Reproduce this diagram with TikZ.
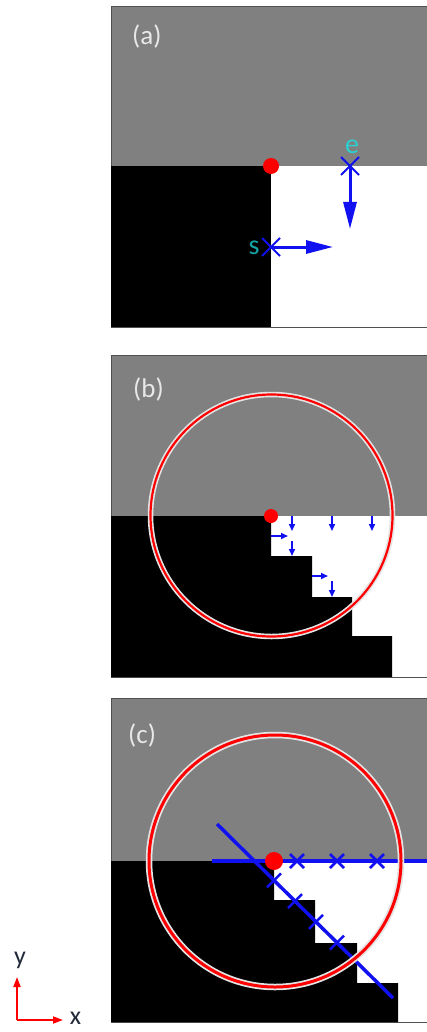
\documentclass[tikz,border=0pt]{standalone}
\usepackage{fontspec}
\setmainfont{Carlito}
\usetikzlibrary{arrows.meta,calc}
\definecolor{topgray}{HTML}{808080}
\definecolor{framec}{HTML}{505050}
\definecolor{bluec}{HTML}{1010F0}
\definecolor{ecol}{HTML}{2DD0D0}
\definecolor{scol}{HTML}{17A3A3}
\definecolor{tagc}{HTML}{E8E8E8}
\definecolor{axc}{HTML}{222A3A}
\definecolor{halo}{HTML}{E4E4E4}
\tikzset{
  bigar/.style={-{Triangle[length=27pt,width=13pt]},line width=3pt,bluec},
  smallar/.style={-{Triangle[length=7pt,width=6pt]},line width=1.6pt,bluec},
  axar/.style={-{Triangle[length=10pt,width=7pt]},line width=1.8pt,red},
  ring/.style 2 args={red,line width=#1,preaction={draw=halo,line width=#2}},
  tag/.style={font=\fontsize{27}{27}\selectfont,text=tagc,anchor=base west,inner sep=0pt},
  lett/.style={font=\fontsize{28}{28}\selectfont,inner sep=0pt},
  axlab/.style={font=\fontsize{26}{26}\selectfont,text=axc,inner sep=0pt}
}
\newcommand{\panel}[3]{\fill[white] (111,#1) rectangle (430,#3);
  \fill[topgray] (111,#1) rectangle (430,#2);
  \draw[framec,line width=1pt] (430,#1) -- (111,#1) -- (111,#3) -- (430,#3);}
\newcommand{\crs}[3]{\draw[bluec,line width=#3] ($(#2)+(-#1,-#1)$) -- ($(#2)+(#1,#1)$)
  ($(#2)+(-#1,#1)$) -- ($(#2)+(#1,-#1)$);}
\begin{document}
\begin{tikzpicture}[x=1pt,y=-1pt]
\useasboundingbox (0,0) rectangle (427,1032);
\clip (0,0) rectangle (427,1032);
% (a)
\panel{7}{166}{327}
\fill (111,166) rectangle (271,327);
\coordinate (ae) at (350,166);
\coordinate (as) at (271,247);
\draw[bigar] (ae) -- ++(0,63);
\draw[bigar] (as) -- ++(62,0);
\crs{9}{ae}{2pt}
\crs{9}{as}{2pt}
\fill[red] (271,166) circle (8);
\node[lett,text=ecol] (elab) at (352,147) {e};
\node[lett,text=scol] (slab) at (254,248) {s};
\node[tag] (taga) at (132,45) {(a)};
% (b)
\panel{355}{516}{677}
\fill (111,516) -| (271,556) -| (312,597) -| (352,636) -| (392,677) -- (111,677) -- cycle;
\foreach \px in {292,332,372} \draw[smallar] (\px,516) -- ++(0,15);
\draw[smallar] (271,536) -- ++(17,0);
\draw[smallar] (292,541) -- ++(0,15);
\draw[smallar] (312,576) -- ++(16,0);
\draw[smallar] (332,581) -- ++(0,16);
\fill[red] (271,516) circle (7);
\draw[ring={2.2pt}{5.5pt}] (271.5,515.5) circle (121);
\node[tag] (tagb) at (133,397) {(b)};
% (c)
\panel{698}{861}{1022}
\fill (111,861) -| (274,900) -| (315,943) -| (357,983) -| (398,1022) -- (111,1022) -- cycle;
\coordinate (ch0) at (212,861);
\coordinate (ch1) at (430,861);
\coordinate (cd0) at (217,824);
\coordinate (cd1) at (393,998);
\draw[bluec,line width=3.5pt] (ch0) -- (ch1);
\draw[bluec,line width=3.5pt] (cd0) -- (cd1);
\foreach \px in {297,337,377} \crs{7}{\px,861}{2.5pt};
\foreach \t [count=\i] in {0.324,0.443,0.5625,0.682} {
  \coordinate (cx\i) at ($(cd0)!\t!(cd1)$);
  \crs{7}{cx\i}{2.5pt}
}
\draw[ring={3pt}{6.5pt}] (275,861) circle (126);
\fill[red] (274,861) circle (9);
\node[tag] (tagc) at (128,743) {(c)};
% axes
\coordinate (org) at (17,1020);
\draw[axar] (org) -- ++(0,-43) node[axlab,above=7pt,xshift=3pt] (ylab) {y};
\draw[axar] (org) -- ++(46,0) node[axlab,right=6pt,yshift=1.5pt] (xlab) {x};
\end{tikzpicture}
\end{document}
